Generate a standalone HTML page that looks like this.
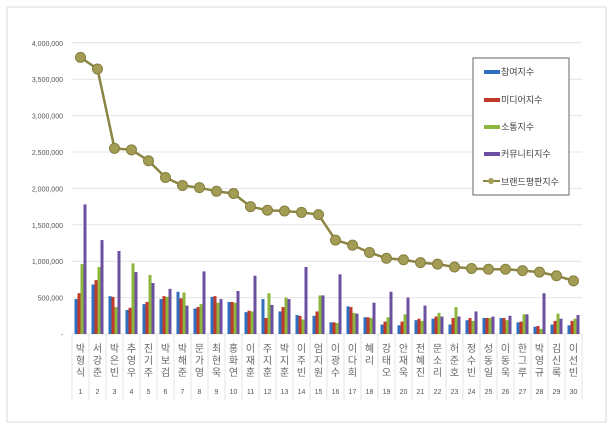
<!DOCTYPE html>
<html><head><meta charset="utf-8"><style>
body{margin:0;background:#fff;}
svg{display:block;font-family:"Liberation Sans","Noto Sans CJK KR",sans-serif;}
</style></head><body>
<svg id="c" width="615" height="430">
<rect x="7" y="7" width="599" height="415" fill="#fff" stroke="#d9d9d9"/>
<g id="grid"></g><g id="bars"></g><g id="line"></g><g id="labels"></g>
<g>
<rect x="473" y="58" width="96" height="137" fill="#fff" stroke="#666"/>
<rect x="484" y="70" width="16" height="4" fill="#2f6fbf"/>
<text x="501" y="75" font-size="9" fill="#444">참여지수</text>
<rect x="484" y="98" width="16" height="4" fill="#c0392b"/>
<text x="501" y="103" font-size="9" fill="#444">미디어지수</text>
<rect x="484" y="125" width="16" height="4" fill="#8db63c"/>
<text x="501" y="130" font-size="9" fill="#444">소통지수</text>
<rect x="484" y="152" width="16" height="4" fill="#6b4fa0"/>
<text x="501" y="157" font-size="9" fill="#444">커뮤니티지수</text>
<line x1="483" y1="181" x2="500" y2="181" stroke="#8b8442" stroke-width="2"/>
<circle cx="491" cy="181" r="3" fill="#a39c55"/>
<text x="501" y="185" font-size="9" fill="#444">브랜드평판지수</text>
</g>
</svg>
<script>
const names=["박형식","서강준","박은빈","추영우","진기주","박보검","박해준","문가영","최현욱","홍화연","이재훈","주지훈","박지훈","이주빈","엄지원","이광수","이다희","혜리","강태오","안재욱","전혜진","문소리","허준호","정수빈","성동일","이동욱","한그루","박영규","김신록","이선빈"];
const participation=[480,680,520,330,410,480,580,350,510,440,300,480,310,260,250,160,380,230,130,120,190,210,130,190,220,220,160,100,130,120];
const media=[560,740,510,360,440,520,490,370,520,440,320,220,370,250,310,160,370,230,170,170,210,240,220,220,220,220,170,110,180,180];
const communication=[960,920,370,970,810,510,570,410,430,430,310,560,500,200,530,150,290,220,230,270,180,290,370,180,220,190,270,70,280,210];
const community=[1780,1290,1140,850,700,620,390,860,480,590,800,400,480,920,530,820,280,430,580,500,390,240,240,310,240,250,270,560,210,260];
const brand=[3800,3640,2550,2530,2380,2150,2040,2010,1960,1930,1750,1700,1690,1670,1640,1290,1220,1120,1040,1020,980,960,920,900,890,890,870,850,800,730];
const yTicks=[0,500,1000,1500,2000,2500,3000,3500,4000];
const yTickLabels=["-","500,000","1,000,000","1,500,000","2,000,000","2,500,000","3,000,000","3,500,000","4,000,000"];
const NS="http://www.w3.org/2000/svg";
const x0=72,cw=17,yb=334,ppk=36.4/500;
const y=v=>yb-v*ppk, xc=i=>x0+cw*i+cw/2;
function mk(t,a,p){const e=document.createElementNS(NS,t);for(const k in a)e.setAttribute(k,a[k]);p.appendChild(e);return e;}
const grid=document.getElementById('grid'),bars=document.getElementById('bars'),line=document.getElementById('line'),labels=document.getElementById('labels');
yTicks.forEach((t,i)=>{
 const g=mk('line',{x1:x0,x2:582,y1:y(t),y2:y(t),stroke:'#e4e4e4'},grid);
 
 
 const l=mk('text',{x:63,y:y(t)+3,'text-anchor':'end','font-size':'7',fill:'#555'},labels);
 l.textContent=yTickLabels[i];
 
 
});
for(let i=0;i<=names.length;i++){
 const v=mk('line',{x1:x0+cw*i,x2:x0+cw*i,y1:yb,y2:400,stroke:'#e4e4e4'},grid);
 
 
}
const series=[[participation,'#2f6fbf'],[media,'#c0392b'],[communication,'#8db63c'],[community,'#6b4fa0']];
names.forEach((n,i)=>{
 series.forEach((s,j)=>{
  const v=s[0][i];
  const r=mk('rect',{x:x0+cw*i+2.5+j*3,y:y(v),width:3,height:yb-y(v),fill:s[1]},bars);
  
  
 });
 const t=mk('text',{x:xc(i),'text-anchor':'middle','font-size':'10',fill:'#666'},labels);
 
 
 [...n].forEach((ch,k)=>{const ts=mk('tspan',{x:xc(i),y:352+k*12},t);ts.textContent=ch;});
 const nm=mk('text',{x:xc(i),y:394,'text-anchor':'middle','font-size':'7',fill:'#555'},labels);
 nm.textContent=i+1;
 
 
});
const pl=mk('polyline',{points:brand.map((v,i)=>xc(i)+','+y(v)).join(' '),fill:'none',stroke:'#8b8442','stroke-width':2.5},line);


brand.forEach((v,i)=>{
 const c=mk('circle',{cx:xc(i),cy:y(v),r:5,fill:'#a39c55',stroke:'#857e3e','stroke-width':1},line);
 
 
});
</script>
</body></html>
